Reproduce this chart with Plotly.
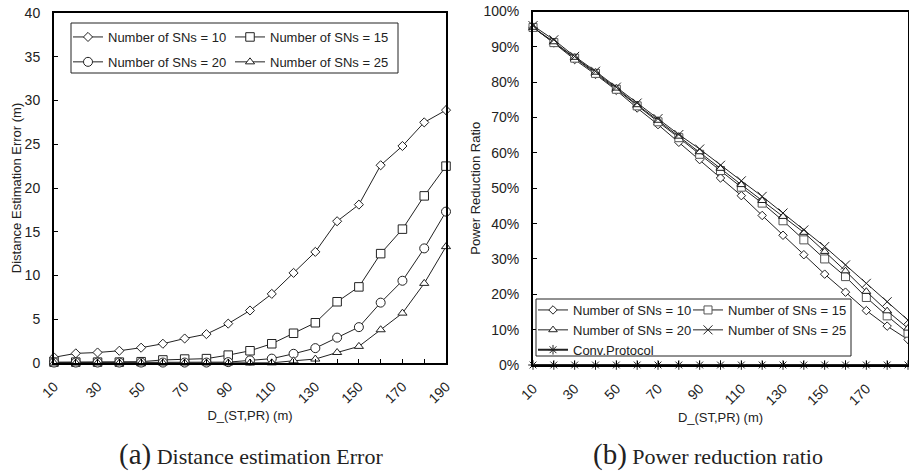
import plotly.graph_objects as go

W, H = 909, 473

# Distance between ST and PR (m)
distance = [10, 20, 30, 40, 50, 60, 70, 80, 90, 100,
            110, 120, 130, 140, 150, 160, 170, 180, 190]
x_tick_text = ["10", "", "30", "", "50", "", "70", "", "90", "",
               "110", "", "130", "", "150", "", "170", "", "190"]

# (a) Distance estimation error (m)
err_sn10 = [0.65, 1.1, 1.2, 1.4, 1.75, 2.2, 2.8, 3.3, 4.5, 6.0,
            7.9, 10.3, 12.7, 16.2, 18.1, 22.6, 24.8, 27.5, 28.9]
err_sn15 = [0.1, 0.1, 0.1, 0.1, 0.15, 0.35, 0.45, 0.5, 0.9, 1.4,
            2.2, 3.4, 4.6, 7.0, 8.7, 12.5, 15.3, 19.1, 22.5]
err_sn20 = [0.05, 0.05, 0.05, 0.05, 0.05, 0.05, 0.05, 0.05, 0.1, 0.3,
            0.5, 1.05, 1.7, 2.9, 4.1, 6.9, 9.4, 13.1, 17.3]
err_sn25 = [0.0, 0.0, 0.0, 0.0, 0.0, 0.0, 0.0, 0.0, 0.0, 0.0,
            0.02, 0.25, 0.45, 1.2, 1.9, 3.8, 5.7, 9.1, 13.3]

# (b) Power reduction ratio (%)
pr_sn10 = [95.5, 91.1, 86.4, 82.2, 77.7, 72.7, 68.0, 63.0, 58.1, 52.9,
           47.9, 42.3, 36.7, 31.2, 25.7, 20.6, 15.4, 11.0, 7.2]
pr_sn15 = [95.5, 91.2, 86.8, 82.5, 78.0, 73.3, 68.8, 64.3, 59.6, 55.0,
           50.3, 45.8, 40.8, 35.4, 30.0, 25.0, 19.1, 13.9, 9.0]
pr_sn20 = [95.5, 91.4, 87.0, 82.8, 78.3, 73.6, 69.2, 64.7, 60.3, 55.6,
           51.0, 46.5, 42.0, 37.5, 32.1, 26.6, 20.8, 15.3, 10.4]
pr_sn25 = [96.0, 92.0, 87.3, 83.1, 78.6, 74.1, 69.7, 65.2, 61.1, 56.5,
           52.1, 47.7, 43.0, 38.2, 33.5, 28.3, 23.1, 17.9, 12.7]
pr_conv = [0, 0, 0, 0, 0, 0, 0, 0, 0, 0,
           0, 0, 0, 0, 0, 0, 0, 0, 0]

y_err_ticks = [0, 5, 10, 15, 20, 25, 30, 35, 40]
y_pr_ticks = [0, 10, 20, 30, 40, 50, 60, 70, 80, 90, 100]
y_pr_text = ["0%", "10%", "20%", "30%", "40%", "50%",
             "60%", "70%", "80%", "90%", "100%"]

SANS = "Liberation Sans"
SERIF = "Liberation Serif"
INK = "#222222"


def px(x):
    return x / W


def py(y):
    return 1 - y / H


def series(x, y, name, symbol, size, xa, ya, legend, group, lw=1.0, edge=INK):
    return go.Scatter(
        x=x, y=y, name=name, mode="lines+markers",
        line=dict(color=INK, width=lw),
        marker=dict(symbol=symbol, size=size, color="white",
                    line=dict(color=edge, width=1)),
        xaxis=xa, yaxis=ya, legend=legend, legendgroup=group,
        cliponaxis=False,
    )


fig = go.Figure()

# left panel: estimation error
fig.add_trace(series(distance, err_sn10, "Number of SNs = 10", "diamond", 7, "x", "y", "legend", "a10"))
fig.add_trace(series(distance, err_sn15, "Number of SNs = 15", "square", 8.5, "x", "y", "legend2", "a15"))
fig.add_trace(series(distance, err_sn20, "Number of SNs = 20", "circle", 9, "x", "y", "legend", "a20"))
fig.add_trace(series(distance, err_sn25, "Number of SNs = 25", "triangle-up", 8, "x", "y", "legend2", "a25"))

# right panel: power reduction ratio
fig.add_trace(series(distance, pr_sn10, "Number of SNs = 10", "diamond", 6.5, "x2", "y2", "legend3", "b10"))
fig.add_trace(series(distance, pr_sn15, "Number of SNs = 15", "square", 8, "x2", "y2", "legend4", "b15", edge="#555555"))
fig.add_trace(series(distance, pr_sn20, "Number of SNs = 20", "triangle-up", 7.5, "x2", "y2", "legend3", "b20"))
fig.add_trace(series(distance, pr_sn25, "Number of SNs = 25", "x-thin", 9, "x2", "y2", "legend4", "b25"))
fig.add_trace(series(distance, pr_conv, "Conv.Protocol", "asterisk", 8, "x2", "y2", "legend3", "bconv", lw=2))

axis_common = dict(
    showline=True, linecolor="black", linewidth=2, mirror=True,
    ticks="inside", ticklen=4, tickwidth=1, tickcolor="black",
    showgrid=False, zeroline=False, automargin=False,
    tickfont=dict(family=SANS, size=14, color=INK),
    title_font=dict(family=SANS, size=13, color=INK),
)

x_common = dict(axis_common, range=[10, 190], tickmode="array",
                tickvals=distance, ticktext=x_tick_text, tickangle=-45,
                ticklabelstandoff=8,
                title=dict(text="D_(ST,PR) (m)", standoff=6))

fig.update_layout(
    width=W, height=H,
    margin=dict(l=0, r=0, t=0, b=0, autoexpand=False),
    paper_bgcolor="white", plot_bgcolor="white",
    font=dict(family=SANS, size=13, color=INK),
    xaxis=dict(x_common, domain=[px(54), px(446)], anchor="y"),
    yaxis=dict(axis_common, domain=[py(363), py(13)], anchor="x",
               range=[0, 40], tickmode="array", tickvals=y_err_ticks,
               ticklabelstandoff=9,
               title=dict(text="Distance Estimation Error (m)", standoff=0)),
    xaxis2=dict(x_common, domain=[px(533), px(908)], anchor="y2"),
    yaxis2=dict(axis_common, domain=[py(365), py(11.5)], anchor="x2",
                range=[0, 100], tickmode="array", tickvals=y_pr_ticks,
                ticktext=y_pr_text, ticklabelstandoff=9,
                title=dict(text="Power Reduction Ratio", standoff=0)),
    showlegend=True,
)

leg_common = dict(orientation="v", bgcolor="rgba(0,0,0,0)", borderwidth=0,
                  font=dict(family=SANS, size=13, color=INK),
                  itemwidth=30, xanchor="left", yanchor="top",
                  traceorder="grouped")
fig.update_layout(
    legend=dict(leg_common, x=px(68), y=py(22), tracegroupgap=5),
    legend2=dict(leg_common, x=px(230), y=py(22), tracegroupgap=5),
    legend3=dict(leg_common, x=px(533), y=py(295), tracegroupgap=0),
    legend4=dict(leg_common, x=px(688), y=py(295), tracegroupgap=0),
)

# frames around the two-column legends
fig.add_shape(type="rect", xref="paper", yref="paper",
              x0=px(71), x1=px(398), y0=py(73), y1=py(23),
              line=dict(color=INK, width=1), fillcolor="white", layer="above")
fig.add_shape(type="rect", xref="paper", yref="paper",
              x0=px(536), x1=px(851), y0=py(356), y1=py(299),
              line=dict(color=INK, width=1), fillcolor="white", layer="above")

# panel captions
fig.add_annotation(
    text="<span style='font-size:29px'>(a)</span> Distance estimation Error",
    x=px(251), y=py(454), xref="paper", yref="paper",
    xanchor="center", yanchor="middle", showarrow=False,
    font=dict(family=SERIF, size=22, color=INK))
fig.add_annotation(
    text="<span style='font-size:29px'>(b)</span> Power reduction ratio",
    x=px(708), y=py(454), xref="paper", yref="paper",
    xanchor="center", yanchor="middle", showarrow=False,
    font=dict(family=SERIF, size=22, color=INK))

fig.write_html("out.html")
